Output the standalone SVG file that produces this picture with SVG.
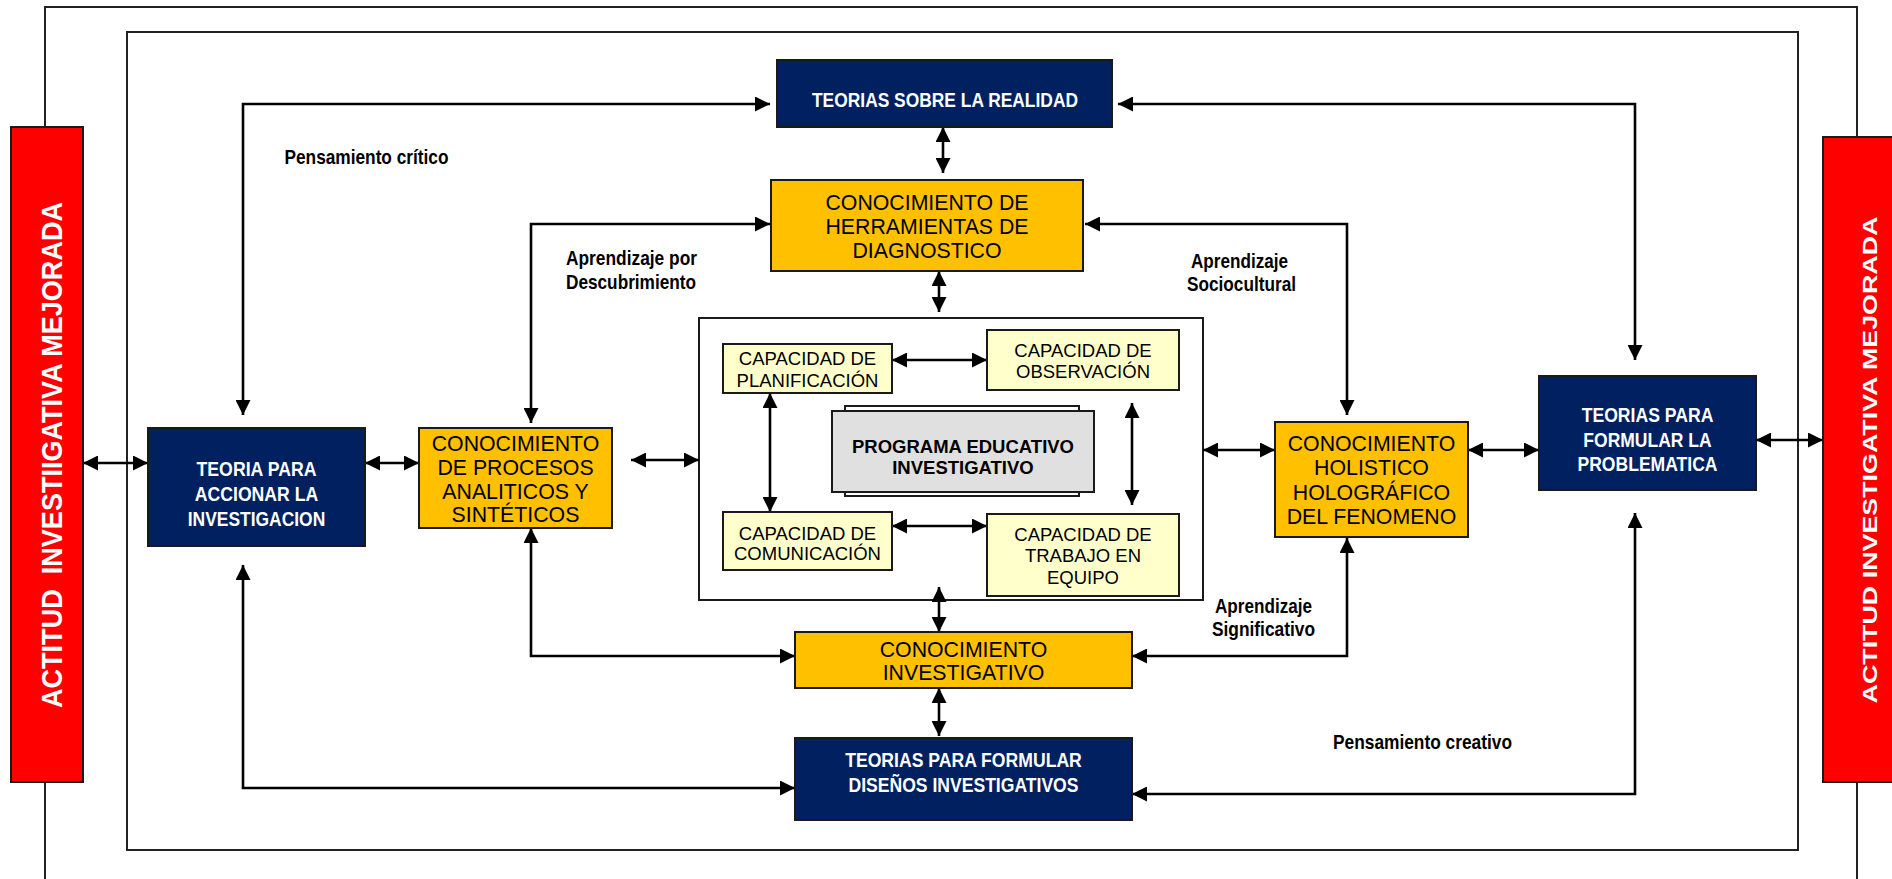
<svg xmlns="http://www.w3.org/2000/svg" width="1892" height="879" viewBox="0 0 1892 879">
<style>
.frame{fill:none;stroke:#222;stroke-width:2}
.box{stroke:#1a1a1a;stroke-width:2}
.navy{fill:#002060}
.gold{fill:#FFC000}
.pale{fill:#FFFFCC}
.gray{fill:#E0E0E0}
.red{fill:#FF0000}
.con{fill:none;stroke:#000;stroke-width:2.6;marker-start:url(#ah);marker-end:url(#ah)}
.nb{font-family:"Liberation Sans Narrow","Arial Narrow","Liberation Sans",sans-serif;font-weight:bold;font-size:21px}
.wt{fill:#fff;text-anchor:middle}
.reg{font-family:"Liberation Sans",Arial,sans-serif;font-size:21.3px;fill:#000;text-anchor:middle}
.cap{font-family:"Liberation Sans",Arial,sans-serif;font-size:18.5px;fill:#000;text-anchor:middle}
.lbl{fill:#000}
</style>
<defs>
<marker id="ah" markerUnits="userSpaceOnUse" markerWidth="15" markerHeight="15" viewBox="0 0 15 15" refX="15" refY="7.5" orient="auto-start-reverse">
<path d="M0,0 L15,7.5 L0,15 z" fill="#000"/>
</marker>
</defs>
<rect width="1892" height="879" fill="#fff"/>

<g id="frames">
<path class="frame" d="M45,127 V7 H1857 V137 M45,782 V879 M1857,782 V879"/>
<rect class="frame" x="127" y="32" width="1671" height="818" stroke-width="2.5"/>
</g>

<g id="programa">
<rect x="699" y="318" width="504" height="282" fill="none" stroke="#1a1a1a" stroke-width="2"/>
<rect x="845" y="406" width="234" height="90" fill="#fff" stroke="#1a1a1a" stroke-width="2"/>
<rect class="box gray" x="832" y="411" width="262" height="81"/>
<text x="963" y="453.3" text-anchor="middle" font-family="Liberation Sans, Arial, sans-serif" font-weight="bold" font-size="18.5">PROGRAMA EDUCATIVO</text>
<text x="963" y="474.3" text-anchor="middle" font-family="Liberation Sans, Arial, sans-serif" font-weight="bold" font-size="18.5">INVESTIGATIVO</text>
</g>

<g id="connectors">
<path class="con" d="M243,415 V104 H770"/>
<path class="con" d="M1118,104 H1635 V360"/>
<path class="con" d="M531,423 V224 H770"/>
<path class="con" d="M1085,224 H1347 V415"/>
<path class="con" d="M943,127 V173"/>
<path class="con" d="M939,271 V312"/>
<path class="con" d="M939,587 V632"/>
<path class="con" d="M939,688 V736"/>
<path class="con" d="M243,565 V788 H795"/>
<path class="con" d="M531,528 V656 H795"/>
<path class="con" d="M1347,538 V656 H1132"/>
<path class="con" d="M1635,513 V794 H1132"/>
<path class="con" d="M83,463 H148"/>
<path class="con" d="M365,463 H419"/>
<path class="con" d="M631,460 H699"/>
<path class="con" d="M1203,450 H1275"/>
<path class="con" d="M1468,450 H1539"/>
<path class="con" d="M1756,440 H1823"/>
<path class="con" d="M892,360 H987"/>
<path class="con" d="M770,393 V512"/>
<path class="con" d="M1132,403 V505"/>
<path class="con" d="M892,526 H987"/>
</g>

<g id="labels" class="nb lbl">
<text x="284.5" y="164" textLength="164" lengthAdjust="spacingAndGlyphs">Pensamiento crítico</text>
<text x="566" y="265" textLength="131" lengthAdjust="spacingAndGlyphs">Aprendizaje por</text>
<text x="566" y="288.7" textLength="130" lengthAdjust="spacingAndGlyphs">Descubrimiento</text>
<text x="1191" y="267.7" textLength="97" lengthAdjust="spacingAndGlyphs">Aprendizaje</text>
<text x="1187" y="290.7" textLength="109" lengthAdjust="spacingAndGlyphs">Sociocultural</text>
<text x="1215" y="612.7" textLength="97" lengthAdjust="spacingAndGlyphs">Aprendizaje</text>
<text x="1212" y="635.5" textLength="103" lengthAdjust="spacingAndGlyphs">Significativo</text>
<text x="1333" y="749.3" textLength="179" lengthAdjust="spacingAndGlyphs">Pensamiento creativo</text>
</g>

<g id="actitud-left">
<rect class="box red" x="11" y="127" width="72" height="655"/>
<text transform="translate(62,455) rotate(-90)" text-anchor="middle" font-family="Liberation Sans, Arial, sans-serif" font-weight="bold" font-size="30" fill="#fff" textLength="506" lengthAdjust="spacingAndGlyphs" xml:space="preserve">ACTITUD  INVESTIIGATIVA MEJORADA</text>
</g>

<g id="actitud-right">
<rect class="box red" x="1823" y="137" width="80" height="645"/>
<text transform="translate(1877,460) rotate(-90)" text-anchor="middle" class="nb" font-size="30" fill="#fff" textLength="487" lengthAdjust="spacingAndGlyphs">ACTITUD INVESTIGATIVA MEJORADA</text>
</g>

<g id="teorias-realidad">
<rect class="box navy" x="777" y="60" width="335" height="67"/>
<text class="nb wt" x="945" y="106.5" textLength="266" lengthAdjust="spacingAndGlyphs">TEORIAS SOBRE LA REALIDAD</text>
</g>

<g id="herramientas">
<rect class="box gold" x="771" y="180" width="312" height="91"/>
<text class="reg" x="927" y="209.5">CONOCIMIENTO DE</text>
<text class="reg" x="927" y="233.8">HERRAMIENTAS DE</text>
<text class="reg" x="927" y="257.7">DIAGNOSTICO</text>
</g>

<g id="teoria-accionar">
<rect class="box navy" x="148" y="428" width="217" height="118"/>
<text class="nb wt" x="256.5" y="476" textLength="120" lengthAdjust="spacingAndGlyphs">TEORIA PARA</text>
<text class="nb wt" x="256.5" y="501" textLength="123.5" lengthAdjust="spacingAndGlyphs">ACCIONAR LA</text>
<text class="nb wt" x="256.5" y="525.7" textLength="137.5" lengthAdjust="spacingAndGlyphs">INVESTIGACION</text>
</g>

<g id="procesos">
<rect class="box gold" x="419" y="428" width="193" height="100"/>
<text class="reg" x="515.5" y="451">CONOCIMIENTO</text>
<text class="reg" x="515.5" y="474.5">DE PROCESOS</text>
<text class="reg" x="515.5" y="498.7">ANALITICOS Y</text>
<text class="reg" x="515.5" y="522">SINTÉTICOS</text>
</g>

<g id="planificacion">
<rect class="box pale" x="723" y="344" width="169" height="49"/>
<text class="cap" x="807.5" y="365">CAPACIDAD DE</text>
<text class="cap" x="807.5" y="386.5">PLANIFICACIÓN</text>
</g>

<g id="observacion">
<rect class="box pale" x="987" y="330" width="192" height="60"/>
<text class="cap" x="1083" y="356.7">CAPACIDAD DE</text>
<text class="cap" x="1083" y="377.7">OBSERVACIÓN</text>
</g>

<g id="comunicacion">
<rect class="box pale" x="723" y="512" width="169" height="58"/>
<text class="cap" x="807.5" y="540">CAPACIDAD DE</text>
<text class="cap" x="807.5" y="560">COMUNICACIÓN</text>
</g>

<g id="trabajo">
<rect class="box pale" x="987" y="514" width="192" height="82"/>
<text class="cap" x="1083" y="540.7">CAPACIDAD DE</text>
<text class="cap" x="1083" y="562.3">TRABAJO EN</text>
<text class="cap" x="1083" y="584">EQUIPO</text>
</g>

<g id="holistico">
<rect class="box gold" x="1275" y="422" width="193" height="115"/>
<text class="reg" x="1371.5" y="450.7">CONOCIMIENTO</text>
<text class="reg" x="1371.5" y="475">HOLISTICO</text>
<text class="reg" x="1371.5" y="500">HOLOGRÁFICO</text>
<text class="reg" x="1371.5" y="524">DEL FENOMENO</text>
</g>

<g id="problematica">
<rect class="box navy" x="1539" y="376" width="217" height="114"/>
<text class="nb wt" x="1647.5" y="422.3" textLength="131.7" lengthAdjust="spacingAndGlyphs">TEORIAS PARA</text>
<text class="nb wt" x="1647.5" y="447.3" textLength="128.3" lengthAdjust="spacingAndGlyphs">FORMULAR LA</text>
<text class="nb wt" x="1647.5" y="471" textLength="140" lengthAdjust="spacingAndGlyphs">PROBLEMATICA</text>
</g>

<g id="investigativo">
<rect class="box gold" x="795" y="632" width="337" height="56"/>
<text class="reg" x="963.5" y="656.5">CONOCIMIENTO</text>
<text class="reg" x="963.5" y="680">INVESTIGATIVO</text>
</g>

<g id="disenos">
<rect class="box navy" x="795" y="738" width="337" height="82"/>
<text class="nb wt" x="963.5" y="767.3" textLength="236.7" lengthAdjust="spacingAndGlyphs">TEORIAS PARA FORMULAR</text>
<text class="nb wt" x="963.5" y="791.7" textLength="230" lengthAdjust="spacingAndGlyphs">DISEÑOS INVESTIGATIVOS</text>
</g>
</svg>
